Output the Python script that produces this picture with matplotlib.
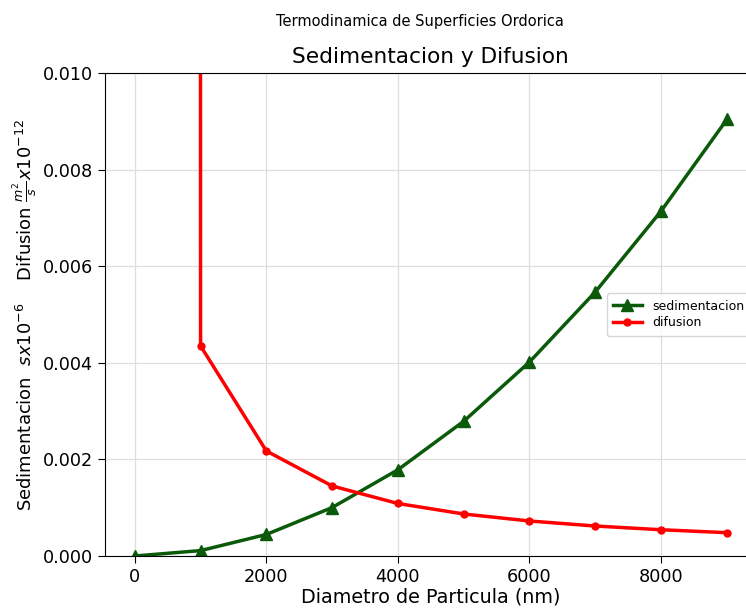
import matplotlib
matplotlib.use("Agg")
import matplotlib.pyplot as plt

# Particle diameter (nm)
diametro = [0, 1000, 2000, 3000, 4000, 5000, 6000, 7000, 8000, 9000]
diametro_difusion = [1, 1000, 2000, 3000, 4000, 5000, 6000, 7000, 8000, 9000]

# Sedimentation coefficient (s x 10^-6)
sedimentacion = [0.0, 0.000112, 0.000446, 0.001004, 0.001786,
                 0.00279, 0.004018, 0.005468, 0.007142, 0.00904]

# Diffusion coefficient (m^2/s x 10^-12)
difusion = [4.35, 0.00435, 0.002175, 0.00145, 0.0010875,
            0.00087, 0.000725, 0.000621, 0.000544, 0.000483]

fig = plt.figure(figsize=(7.46, 6.12), dpi=100)
ax = fig.add_axes([0.141, 0.0915, 0.873, 0.789])

ax.plot(diametro, sedimentacion, color="#0a5a0a", marker="^", markersize=9,
        linewidth=2.5, label="sedimentacion")
ax.plot(diametro_difusion, difusion, color="#ff0000", marker="o", markersize=5,
        linewidth=2.5, label="difusion")

ax.set_xlim(-450, 9450)
ax.set_ylim(0, 0.010)
ax.set_xticks([0, 2000, 4000, 6000, 8000])
ax.set_yticks([0.000, 0.002, 0.004, 0.006, 0.008, 0.010])
ax.tick_params(labelsize=12.7, length=5)
ax.grid(True, color="#dedede", linewidth=0.9)
ax.set_axisbelow(True)

ax.set_title("Sedimentacion y Difusion", fontsize=15.6, pad=7)
fig.suptitle("Termodinamica de Superficies Ordorica", fontsize=10.5,
             x=0.563, y=0.977)
ax.set_xlabel("Diametro de Particula (nm)", fontsize=13.8, labelpad=1)
ax.set_ylabel(r"Sedimentacion  $sx10^{-6}$    Difusion $\frac{m^2}{s}x10^{-12}$",
              fontsize=13, labelpad=2)

ax.legend(loc="center right", fontsize=9, handlelength=2.3, borderpad=0.5,
          labelspacing=0.3)

fig.savefig("out.png", dpi=100)
